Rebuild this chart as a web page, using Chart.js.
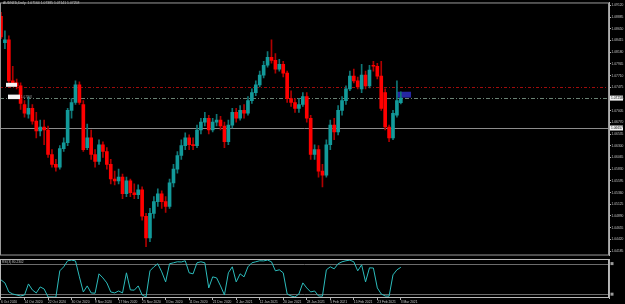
<!DOCTYPE html>
<html>
<head>
<meta charset="utf-8">
<script src="https://cdn.jsdelivr.net/npm/chart.js@4.4.1/dist/chart.umd.min.js"></script>
<style>
    html, body { margin: 0; padding: 0; background: #000; }
    #wrap { position: relative; width: 625px; height: 304px; overflow: hidden; background: #000; }
    #mainBox { position: absolute; left: 0; top: 0; }
    #rsiBox { position: absolute; left: 0; top: 258px; }
</style>
</head>
<body>
<div id="wrap">
    <div id="mainBox"><canvas id="mainChart" width="625" height="258"></canvas></div>
    <div id="rsiBox"><canvas id="rsiChart" width="625" height="46"></canvas></div>
</div>
<script>
const symbolTitle = "AUDNZD,Daily  1.07164 1.07385 1.07141 1.07258"

// daily bars, oldest first
const opens = [1.08903,1.08371,1.08430,1.07603,1.07564,1.07504,1.07130,1.06933,1.07051,1.06795,
    1.06598,1.06677,1.06618,1.06125,1.05928,1.05869,1.06244,1.06362,1.07012,1.07170,
    1.07524,1.07130,1.06263,1.06460,1.06125,1.05988,1.06322,1.06185,1.05928,1.05633,
    1.05594,1.05672,1.05337,1.05594,1.05357,1.05318,1.05416,1.04884,1.04451,1.04943,
    1.05180,1.05337,1.05180,1.05081,1.05554,1.05830,1.06106,1.06303,1.06460,1.06322,
    1.06303,1.06618,1.06776,1.06854,1.06618,1.06776,1.06815,1.06697,1.06382,1.06716,
    1.06973,1.06854,1.07012,1.06953,1.07209,1.07367,1.07524,1.07721,1.07918,1.08076,
    1.08017,1.07839,1.07938,1.07761,1.07248,1.07170,1.07051,1.07130,1.07288,1.06854,
    1.06125,1.06224,1.05791,1.05712,1.06322,1.06716,1.06579,1.07012,1.07209,1.07445,
    1.07701,1.07603,1.07445,1.07721,1.07504,1.07918,1.07898,1.07701,1.07367,1.06677,
    1.06460,1.06913,1.07164]
const highs = [1.08982,1.08608,1.08509,1.07898,1.07642,1.07564,1.07209,1.07288,1.07130,1.06973,
    1.06815,1.06815,1.06697,1.06224,1.06027,1.06303,1.06460,1.07051,1.07248,1.07603,
    1.07583,1.07209,1.06736,1.06618,1.06224,1.06421,1.06382,1.06263,1.06027,1.05791,
    1.05830,1.05731,1.05672,1.05633,1.05534,1.05515,1.05475,1.04943,1.05042,1.05278,
    1.05436,1.05397,1.05278,1.05633,1.05928,1.06185,1.06421,1.06559,1.06519,1.06460,
    1.06716,1.06854,1.06973,1.06913,1.06854,1.06933,1.06894,1.06776,1.06815,1.07051,
    1.07051,1.07110,1.07130,1.07288,1.07445,1.07603,1.07800,1.07997,1.08194,1.08430,
    1.08155,1.08036,1.07997,1.07800,1.07406,1.07248,1.07248,1.07367,1.07367,1.06913,
    1.06322,1.06303,1.05928,1.06421,1.06815,1.06854,1.07110,1.07288,1.07504,1.07800,
    1.07839,1.07682,1.07938,1.07800,1.07918,1.07997,1.07958,1.07997,1.07445,1.06716,
    1.07012,1.07603,1.07385]
const lows = [1.08450,1.08253,1.07564,1.07524,1.07445,1.07032,1.06874,1.06854,1.06736,1.06460,
    1.06500,1.06322,1.06066,1.05869,1.05791,1.05830,1.06185,1.06303,1.06854,1.07130,
    1.07130,1.06185,1.06224,1.06027,1.05869,1.05928,1.06066,1.05830,1.05534,1.05515,
    1.05534,1.05239,1.05278,1.05278,1.05239,1.05239,1.04806,1.04274,1.04372,1.04845,
    1.05081,1.05042,1.04963,1.05042,1.05475,1.05751,1.06027,1.06224,1.06224,1.06224,
    1.06263,1.06539,1.06697,1.06539,1.06579,1.06697,1.06618,1.06263,1.06322,1.06657,
    1.06776,1.06815,1.06854,1.06913,1.07150,1.07307,1.07485,1.07662,1.07879,1.07958,
    1.07761,1.07800,1.07682,1.07170,1.07091,1.06973,1.06973,1.07091,1.06776,1.06027,
    1.06027,1.05672,1.05475,1.05672,1.06224,1.06421,1.06519,1.06913,1.07130,1.07406,
    1.07564,1.07445,1.07367,1.07445,1.07465,1.07800,1.07642,1.07012,1.06618,1.06382,
    1.06421,1.06874,1.07141]
const closes = [1.08489,1.08430,1.07603,1.07564,1.07504,1.07150,1.06953,1.07051,1.06795,1.06598,
    1.06677,1.06618,1.06125,1.05928,1.05869,1.06244,1.06362,1.07012,1.07170,1.07524,
    1.07170,1.06224,1.06460,1.06125,1.05988,1.06322,1.06185,1.05928,1.05633,1.05594,
    1.05672,1.05337,1.05594,1.05357,1.05318,1.05416,1.04884,1.04451,1.04943,1.05180,
    1.05337,1.05180,1.05081,1.05554,1.05830,1.06106,1.06303,1.06460,1.06322,1.06303,
    1.06618,1.06776,1.06854,1.06618,1.06776,1.06815,1.06697,1.06382,1.06716,1.06973,
    1.06854,1.07012,1.06953,1.07209,1.07367,1.07524,1.07721,1.07918,1.08076,1.08017,
    1.07839,1.07938,1.07761,1.07248,1.07170,1.07051,1.07130,1.07288,1.06854,1.06125,
    1.06224,1.05791,1.05712,1.06322,1.06716,1.06579,1.07012,1.07209,1.07445,1.07701,
    1.07603,1.07485,1.07721,1.07504,1.07820,1.07898,1.07701,1.07051,1.06677,1.06460,
    1.06953,1.07209,1.07258]

const rsiName = "RSI(3) 80.2302"
const rsiValues = [47.4,39.5,15.8,10.5,7.9,5.3,7.9,36.8,21.1,13.2,
    28.9,23.7,2.6,2.6,2.2,71.1,81.6,97.4,99.1,97.0,
    55.3,15.8,31.6,13.2,12.5,63.2,52.6,39.5,15.8,13.2,
    18.4,13.2,65.8,21.1,20.5,31.6,7.9,2.6,71.1,81.6,
    89.5,68.4,42.1,89.5,92.1,94.7,94.2,97.4,65.8,63.2,
    92.1,94.7,92.1,26.3,55.3,52.6,31.6,7.9,65.8,81.6,
    42.1,63.2,55.3,81.6,92.1,94.7,97.4,97.0,99.2,94.7,
    71.1,73.7,65.8,10.5,5.3,2.6,10.5,39.5,26.3,15.8,
    18.4,5.3,4.8,73.7,81.6,76.3,89.5,94.7,97.4,99.0,
    94.7,71.1,86.8,42.1,78.9,78.4,26.3,10.5,5.3,4.7,
    60.5,73.7,80.23]
const rsiLevels = [90, 10]

const priceTicks = [1.09120,1.08885,1.08650,1.08415,1.08180,1.07945,1.07710,1.07475,1.07240,1.07005,
    1.06770,1.06535,1.06300,1.06065,1.05830,1.05595,1.05360,1.05125,1.04890,1.04655,1.04420,1.04185]
const dateTickBars = [0,6,12,18,24,30,36,42,48,54,60,66,72,78,84,90,96,102]
const dateTickLabels = ["6 Oct 2020","14 Oct 2020","22 Oct 2020","30 Oct 2020","9 Nov 2020","17 Nov 2020",
    "25 Nov 2020","3 Dec 2020","11 Dec 2020","21 Dec 2020","4 Jan 2021","12 Jan 2021",
    "20 Jan 2021","28 Jan 2021","5 Feb 2021","15 Feb 2021","23 Feb 2021","3 Mar 2021"]

const bidPrice = 1.07258
const redLevel = 1.07485
const grayLevel = 1.06657
const zoneBars = [100.8, 104.6]
const zonePrices = [1.07386, 1.07268]

// view window
const xMin = -0.255
const xMax = xMin + 609 / 3.92
const priceMax = 1.09179
const priceMin = 1.04096

const BULL = '#129a9a'
const BEAR = '#ff0000'
const tinyFont = { family: 'Liberation Sans', size: 3.3 }
const textColor = '#c4c4c4'
const frameColor = '#9a9a9a'

Chart.defaults.font.family = 'Liberation Sans'

const barIdx = closes.map((c, i) => i)
const isUp = barIdx.map(i => closes[i] >= opens[i])

function hLine(ctx, area, yPix, color, dash) {
    ctx.strokeStyle = color
    ctx.lineWidth = 1
    ctx.setLineDash(dash)
    ctx.beginPath()
    ctx.moveTo(area.left, yPix)
    ctx.lineTo(area.right, yPix)
    ctx.stroke()
    ctx.setLineDash([])
}

function axisBox(ctx, area, yPix, text) {
    ctx.fillStyle = '#f2f2f2'
    ctx.fillRect(area.right + 1, yPix - 2.5, 13, 5)
    ctx.fillStyle = '#000'
    ctx.font = '3.3px Liberation Sans'
    ctx.textBaseline = 'middle'
    ctx.textAlign = 'left'
    ctx.fillText(text, area.right + 2, yPix)
}

const mainOverlay = {
    id: 'mainOverlay',
    beforeDatasetsDraw(chart) {
        const { ctx, chartArea: a, scales: { x, y } } = chart
        ctx.save()
        const zx0 = x.getPixelForValue(zoneBars[0]), zx1 = x.getPixelForValue(zoneBars[1])
        const zy0 = y.getPixelForValue(zonePrices[0]), zy1 = y.getPixelForValue(zonePrices[1])
        ctx.fillStyle = '#2626a2'
        ctx.fillRect(zx0, zy0, zx1 - zx0, zy1 - zy0)

        hLine(ctx, a, Math.round(y.getPixelForValue(redLevel)) + 0.5, '#a00c0c', [3, 2, 1, 2])
        hLine(ctx, a, Math.round(y.getPixelForValue(bidPrice)) + 0.5, '#6a8274', [4, 2, 1, 2])
        hLine(ctx, a, Math.round(y.getPixelForValue(grayLevel)) + 0.5, '#8c8c8c', [])
        ctx.restore()
    },
    afterDraw(chart) {
        const { ctx, chartArea: a, scales: { y } } = chart
        ctx.save()
        ctx.strokeStyle = frameColor
        ctx.lineWidth = 1
        ctx.strokeRect(a.left + 0.5, a.top + 0.5, a.right - a.left - 1, a.bottom - a.top - 1)

        ctx.fillStyle = textColor
        ctx.font = '3.4px Liberation Sans'
        ctx.textBaseline = 'top'
        ctx.textAlign = 'left'
        ctx.fillText(symbolTitle, 3, 1.5)

        // object labels on the left
        const ry = y.getPixelForValue(redLevel)
        const by = y.getPixelForValue(bidPrice)
        ctx.fillStyle = '#f4f4f4'
        ctx.fillRect(6, ry - 4, 11, 4)
        ctx.fillRect(8, by - 3.5, 12, 4.5)
        ctx.fillStyle = '#9a9a9a'
        ctx.font = '3px Liberation Sans'
        ctx.textBaseline = 'middle'
        ctx.fillText(bidPrice.toFixed(5), 21, by - 1)

        axisBox(ctx, a, by, bidPrice.toFixed(5))
        axisBox(ctx, a, y.getPixelForValue(grayLevel), grayLevel.toFixed(5))
        ctx.restore()
    }
}

new Chart(document.getElementById('mainChart'), {
    type: 'bar',
    data: {
        datasets: [{
            label: 'wicks',
            data: barIdx.map(i => ({ x: i, y: [lows[i], highs[i]] })),
            backgroundColor: isUp.map(u => u ? '#0f7676' : '#b00000'),
            barThickness: 1,
            grouped: false,
            order: 2
        }, {
            label: 'bodies',
            data: barIdx.map(i => ({ x: i, y: [opens[i], closes[i]] })),
            backgroundColor: isUp.map(u => u ? BULL : BEAR),
            barThickness: 3,
            minBarLength: 1,
            grouped: false,
            order: 1
        }]
    },
    options: {
        responsive: false,
        animation: false,
        devicePixelRatio: 1,
        layout: { padding: 0, autoPadding: false },
        plugins: {
            legend: { display: false },
            tooltip: { enabled: false }
        },
        scales: {
            x: { type: 'linear', display: false, min: xMin, max: xMax, offset: false },
            y: {
                position: 'right',
                min: priceMin,
                max: priceMax,
                afterFit: function(scale) { scale.width = 16 },
                afterBuildTicks: function(scale) { scale.ticks = priceTicks.map(v => ({ value: v })) },
                ticks: {
                    autoSkip: false,
                    color: textColor,
                    font: tinyFont,
                    padding: 0.5,
                    callback: v => v.toFixed(5)
                },
                grid: { drawOnChartArea: false, tickLength: 2, color: '#b0b0b0' },
                border: { color: '#b0b0b0' }
            }
        }
    },
    plugins: [mainOverlay]
})

const rsiOverlay = {
    id: 'rsiOverlay',
    beforeDatasetsDraw(chart) {
        const { ctx, chartArea: a, scales: { y } } = chart
        ctx.save()
        rsiLevels.forEach(lv => {
            hLine(ctx, a, Math.round(y.getPixelForValue(lv)) + 0.5, '#6c6c6c', [])
        })
        ctx.restore()
    },
    afterDraw(chart) {
        const { ctx, chartArea: a, scales: { y } } = chart
        ctx.save()
        ctx.strokeStyle = '#b8b8b8'
        ctx.lineWidth = 1
        ctx.strokeRect(a.left + 0.5, a.top + 0.5, a.right - a.left - 1, a.bottom - a.top - 1)
        ctx.fillStyle = textColor
        ctx.font = '3.2px Liberation Sans'
        ctx.textBaseline = 'top'
        ctx.textAlign = 'left'
        ctx.fillText(rsiName, 2, a.top + 2)
        ctx.fillStyle = '#9a9a9a'
        rsiLevels.forEach(lv => {
            ctx.fillRect(a.right + 1.5, y.getPixelForValue(lv) - 1.5, 3, 3)
        })
        ctx.restore()
    }
}

new Chart(document.getElementById('rsiChart'), {
    type: 'line',
    data: {
        datasets: [{
            label: rsiName,
            data: rsiValues.map((v, i) => ({ x: i, y: v })),
            borderColor: '#2cbcbc',
            borderWidth: 1,
            pointRadius: 0,
            tension: 0
        }]
    },
    options: {
        responsive: false,
        animation: false,
        devicePixelRatio: 1,
        layout: { padding: { top: 1 }, autoPadding: false },
        plugins: {
            legend: { display: false },
            tooltip: { enabled: false }
        },
        scales: {
            x: {
                type: 'linear',
                min: xMin,
                max: xMax,
                offset: false,
                afterFit: function(scale) { scale.height = 6 },
                afterBuildTicks: function(scale) { scale.ticks = dateTickBars.map(v => ({ value: v })) },
                ticks: {
                    autoSkip: false,
                    maxRotation: 0,
                    align: 'start',
                    padding: 0,
                    color: textColor,
                    font: tinyFont,
                    callback: (v, idx) => dateTickLabels[idx]
                },
                grid: { drawOnChartArea: false, tickLength: 2, color: '#b0b0b0' },
                border: { display: false }
            },
            y: {
                position: 'right',
                min: 0,
                max: 102,
                afterFit: function(scale) { scale.width = 16 },
                ticks: { display: false },
                grid: { display: false },
                border: { color: '#b0b0b0' }
            }
        }
    },
    plugins: [rsiOverlay]
})
</script>
</body>
</html>
